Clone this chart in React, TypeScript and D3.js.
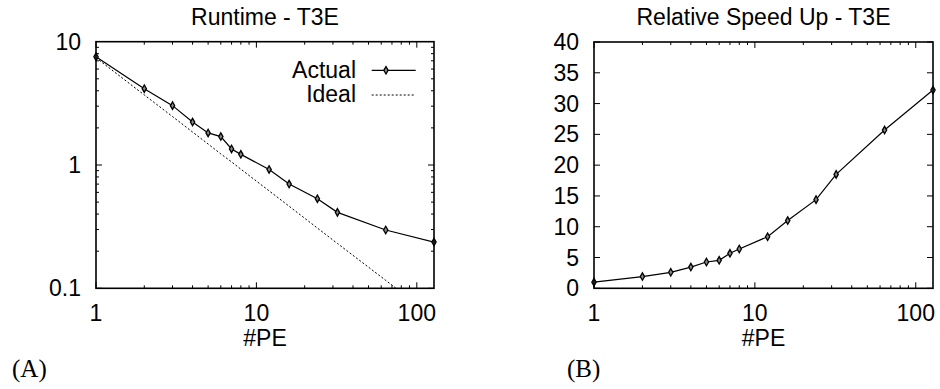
import React from "react";
import * as d3 from "d3";

// processor counts
const pes = [1, 2, 3, 4, 5, 6, 7, 8, 12, 16, 24, 32, 64, 128];
// runtime
const runtime = [7.55, 4.16, 3.03, 2.23, 1.82, 1.7, 1.35, 1.22, 0.92, 0.7, 0.533, 0.413, 0.297, 0.237];
// ideal runtime (dashed line)
const idealRuntime = [7.4, 3.7, 2.47, 1.85, 1.48, 1.23, 1.06, 0.925, 0.617, 0.463, 0.308, 0.231, 0.116, 0.058];
// relative speed up
const speedup = [1, 1.9, 2.6, 3.45, 4.27, 4.54, 5.68, 6.38, 8.38, 11.0, 14.4, 18.5, 25.7, 32.2];

const xTickLabels = [1, 10, 100];
const runtimeTickLabels = [0.1, 1, 10];
const speedTickLabels = [0, 5, 10, 15, 20, 25, 30, 35, 40];

const FONT = "'Liberation Sans', Arial, sans-serif";
const FS = 23;

const logMinor = (lo: number, hi: number) => {
  const out: number[] = [];
  for (let d = lo; d < hi; d *= 10) {
    for (let k = 1; k < 10; k++) {
      const v = d * k;
      if (v <= hi) out.push(v);
    }
  }
  return out;
};

const Marker = ({ x, y }: { x: number; y: number }) => (
  <path
    transform={`translate(${x},${y})`}
    d={d3.symbol(d3.symbolDiamond, 16)() as string}
    fill="#888"
    stroke="#000"
    strokeWidth={1.3}
  />
);

function Panel(props: {
  x: d3.ScaleLogarithmic<number, number>;
  y: any;
  yTicks: number[];
  yMinor: number[];
  yFmt: (v: number) => string;
  title: string;
  tag: string;
  tagX: number;
  children?: React.ReactNode;
}) {
  const { x, y, yTicks, yMinor, yFmt, title, tag, tagX } = props;
  const [x0, x1] = x.range();
  const [y0, y1] = y.range();
  const cx = (x0 + x1) / 2;
  const xMinor = logMinor(1, 128);
  return (
    <g fontFamily={FONT} fontSize={FS} fill="#000">
      <text x={cx} y={25} textAnchor="middle">{title}</text>
      {/* x ticks, mirrored */}
      {xMinor.map((v, i) => {
        const major = xTickLabels.includes(v);
        const len = major ? 6 : 3;
        const px = x(v);
        return (
          <g key={"xt" + i} stroke="#000" strokeWidth={1}>
            <line x1={px} x2={px} y1={y0} y2={y0 - len} />
            <line x1={px} x2={px} y1={y1} y2={y1 + len} />
          </g>
        );
      })}
      {yMinor.map((v, i) => {
        const major = yTicks.includes(v);
        const len = major ? 6 : 3;
        const py = y(v);
        return (
          <g key={"yt" + i} stroke="#000" strokeWidth={1}>
            <line x1={x0} x2={x0 + len} y1={py} y2={py} />
            <line x1={x1} x2={x1 - len} y1={py} y2={py} />
          </g>
        );
      })}
      {xTickLabels.map((v) => (
        <text key={"xl" + v} x={x(v)} y={321} textAnchor="middle">{v}</text>
      ))}
      {yTicks.map((v) => (
        <text key={"yl" + v} x={x0 - 15} y={y(v) + 8} textAnchor="end">{yFmt(v)}</text>
      ))}
      <text x={cx} y={346} textAnchor="middle">#PE</text>
      {props.children}
      <rect x={x0} y={y1} width={x1 - x0} height={y0 - y1} fill="none" stroke="#000" strokeWidth={1.6} />
      <text x={tagX} y={377} fontFamily="'Liberation Serif', 'DejaVu Serif', serif" fontSize={25}>{tag}</text>
    </g>
  );
}

export default function App() {
  const xL = d3.scaleLog().domain([1, 128]).range([96, 434]);
  const yL = d3.scaleLog().domain([0.1, 10]).range([288.3, 41.7]);
  const xR = d3.scaleLog().domain([1, 128]).range([594, 933]);
  const yR = d3.scaleLinear().domain([0, 40]).range([288.3, 42]);

  const lineL = d3.line<number>().x((_, i) => xL(pes[i])).y((d) => yL(d));
  const lineR = d3.line<number>().x((_, i) => xR(pes[i])).y((d) => yR(d));

  return (
    <svg width={940} height={389} style={{ position: "absolute", left: 0, top: 0, background: "#fff" }}>
      <defs>
        <clipPath id="clipL">
          <rect x={96} y={41.7} width={338} height={246.6} />
        </clipPath>
      </defs>
      <Panel
        x={xL}
        y={yL}
        yTicks={runtimeTickLabels}
        yMinor={logMinor(0.1, 10)}
        yFmt={(v) => String(v)}
        title="Runtime - T3E"
        tag="(A)"
        tagX={12}
      >
        <g clipPath="url(#clipL)">
          <path d={lineL(idealRuntime) as string} fill="none" stroke="#000" strokeWidth={1} strokeDasharray="2,2" />
          <path d={lineL(runtime) as string} fill="none" stroke="#000" strokeWidth={1.2} />
        </g>
        {runtime.map((v, i) => (
          <Marker key={i} x={xL(pes[i])} y={yL(v)} />
        ))}
        <text x={356} y={78} textAnchor="end">Actual</text>
        <text x={356} y={102} textAnchor="end">Ideal</text>
        <line x1={371.7} x2={415.7} y1={70.3} y2={70.3} stroke="#000" strokeWidth={1.2} />
        <Marker x={386} y={70.3} />
        <line x1={371.7} x2={415.7} y1={95} y2={95} stroke="#000" strokeWidth={1} strokeDasharray="2,2" />
      </Panel>
      <Panel
        x={xR}
        y={yR}
        yTicks={speedTickLabels}
        yMinor={speedTickLabels}
        yFmt={(v) => String(v)}
        title="Relative Speed Up - T3E"
        tag="(B)"
        tagX={567}
      >
        <path d={lineR(speedup) as string} fill="none" stroke="#000" strokeWidth={1.2} />
        {speedup.map((v, i) => (
          <Marker key={i} x={xR(pes[i])} y={yR(v)} />
        ))}
      </Panel>
    </svg>
  );
}
